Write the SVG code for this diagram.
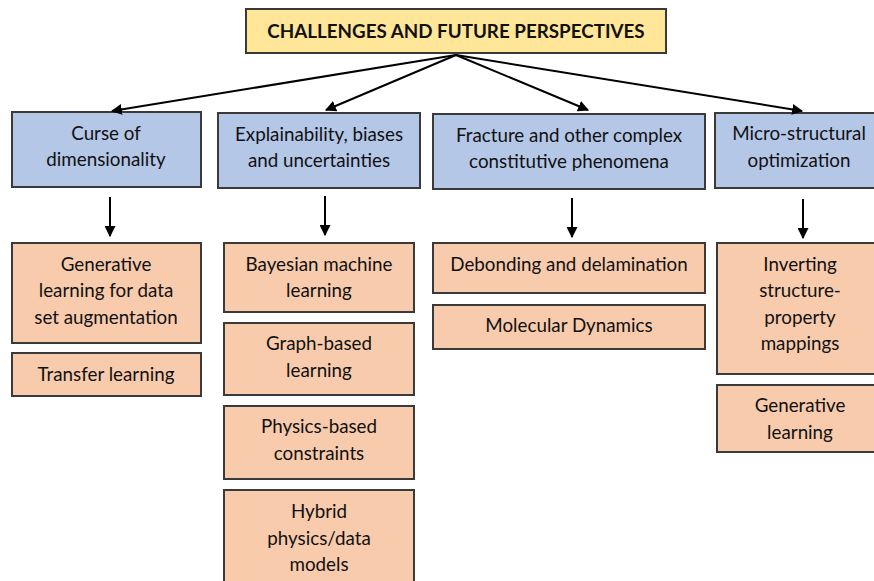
<svg xmlns="http://www.w3.org/2000/svg" width="874" height="581" viewBox="0 0 874 581">
<style>
  .box { stroke: #3a3a3a; stroke-width: 2; }
  .title { fill: #FFE699; }
  .cat { fill: #B4C7E7; }
  .item { fill: #F8CBAD; }
  text { font-family: Lato, "Open Sans", "Liberation Sans", sans-serif; font-size: 18.8px; fill: #111; text-anchor: middle; }
  .t { font-weight: bold; }
  .conn line { stroke: #000; stroke-width: 2; marker-end: url(#ah); }
</style>
<defs>
  <marker id="ah" viewBox="0 0 10 10" refX="9" refY="5" markerWidth="5.5" markerHeight="5.5" orient="auto" markerUnits="strokeWidth">
    <path d="M0,0 L10,5 L0,10 z" fill="#000"/>
  </marker>
</defs>
<rect width="874" height="581" fill="#fff"/>

<g id="title"><rect class="box title" x="246" y="9" width="420" height="44"/><text class="t" x="456" y="38">CHALLENGES AND FUTURE PERSPECTIVES</text></g>

<g id="cat1"><rect class="box cat" x="12" y="112" width="189" height="75"/><text x="106" y="140">Curse of</text><text x="106" y="166">dimensionality</text></g>
<g id="cat2"><rect class="box cat" x="218" y="113" width="202" height="75"/><text x="319" y="141">Explainability, biases</text><text x="319" y="167">and uncertainties</text></g>
<g id="cat3"><rect class="box cat" x="433" y="114" width="272" height="75"/><text x="569" y="142">Fracture and other complex</text><text x="569" y="168">constitutive phenomena</text></g>
<g id="cat4"><rect class="box cat" x="715" y="113" width="170" height="75"/><text x="799" y="140">Micro-structural</text><text x="799" y="167">optimization</text></g>

<g id="i1a"><rect class="box item" x="12" y="243" width="189" height="100"/><text x="106" y="271">Generative</text><text x="106" y="297">learning for data</text><text x="106" y="324">set augmentation</text></g>
<g id="i1b"><rect class="box item" x="12" y="353" width="189" height="43"/><text x="106" y="381">Transfer learning</text></g>

<g id="i2a"><rect class="box item" x="224" y="243" width="190" height="69"/><text x="319" y="271">Bayesian machine</text><text x="319" y="297">learning</text></g>
<g id="i2b"><rect class="box item" x="224" y="323" width="190" height="72"/><text x="319" y="350">Graph-based</text><text x="319" y="377">learning</text></g>
<g id="i2c"><rect class="box item" x="224" y="406" width="190" height="73"/><text x="319" y="433">Physics-based</text><text x="319" y="460">constraints</text></g>
<g id="i2d"><rect class="box item" x="224" y="490" width="190" height="100"/><text x="319" y="518">Hybrid</text><text x="319" y="545">physics/data</text><text x="319" y="571">models</text></g>

<g id="i3a"><rect class="box item" x="433" y="243" width="272" height="50"/><text x="569" y="271">Debonding and delamination</text></g>
<g id="i3b"><rect class="box item" x="433" y="305" width="272" height="44"/><text x="569" y="332">Molecular Dynamics</text></g>

<g id="i4a"><rect class="box item" x="717" y="243" width="170" height="131"/><text x="800" y="271">Inverting</text><text x="800" y="297">structure-</text><text x="800" y="324">property</text><text x="800" y="350">mappings</text></g>
<g id="i4b"><rect class="box item" x="717" y="385" width="170" height="67"/><text x="800" y="412">Generative</text><text x="800" y="439">learning</text></g>

<g class="conn" id="connectors">
  <line x1="456" y1="55" x2="112" y2="111"/>
  <line x1="456" y1="55" x2="326" y2="110"/>
  <line x1="456" y1="55" x2="588" y2="110"/>
  <line x1="456" y1="55" x2="802" y2="111"/>
  <line x1="110" y1="197" x2="110" y2="236"/>
  <line x1="325" y1="196" x2="325" y2="235"/>
  <line x1="572" y1="198" x2="572" y2="237"/>
  <line x1="803" y1="199" x2="803" y2="238"/>
</g>
</svg>
